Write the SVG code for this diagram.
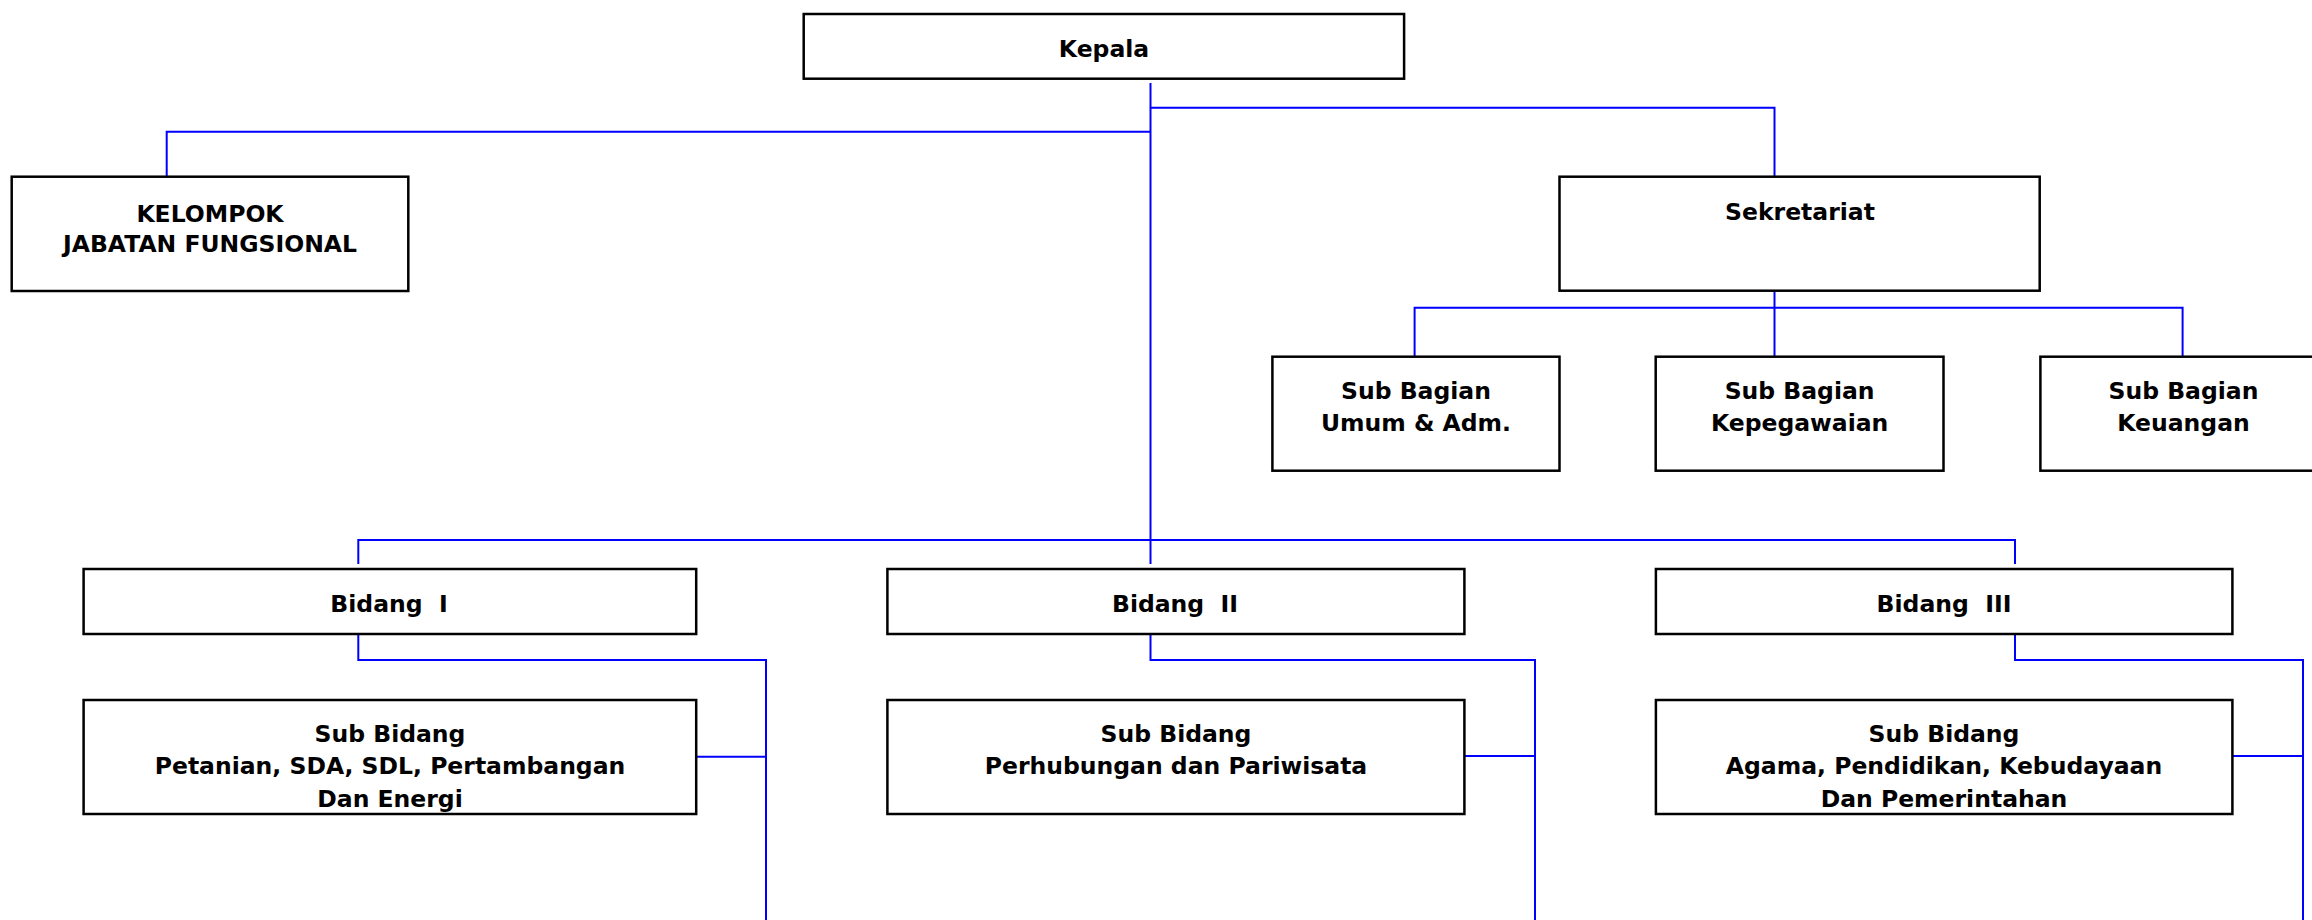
<svg xmlns="http://www.w3.org/2000/svg" width="2312" height="920" viewBox="0 0 2312 920">
<style>
.box{fill:#fff;stroke:#000;stroke-width:2.5}
.t{font-family:"DejaVu Sans","Liberation Sans",sans-serif;font-weight:bold;font-size:23.5px;fill:#000;text-anchor:middle}
.c{fill:none;stroke:#0000ff;stroke-width:2}
</style>
<rect width="2312" height="920" fill="#fff"/>
<g id="connectors">
<path class="c" d="M1150.5 83 V564"/>
<path class="c" d="M1150.5 107.7 H1774.5 V180"/>
<path class="c" d="M1150.5 131.7 H166.7 V180"/>
<path class="c" d="M1774.5 284 V356.7"/>
<path class="c" d="M1414.6 356.7 V307.7 H2182.6 V356.7"/>
<path class="c" d="M358.3 564 V540 H2015 V564"/>
<path class="c" d="M358.3 634 V660 H766 V920"/>
<path class="c" d="M696 756.7 H766"/>
<path class="c" d="M1150.5 634 V660 H1535 V920"/>
<path class="c" d="M1464 756 H1535"/>
<path class="c" d="M2015 634 V660 H2303 V920"/>
<path class="c" d="M2232 756 H2303"/>
</g>
<g id="kepala"><rect class="box" x="803.7" y="14" width="600.4" height="64.7"/><text class="t" x="1104" y="57">Kepala</text></g>
<g id="kelompok"><rect class="box" x="11.7" y="176.7" width="396.6" height="114.3"/><text class="t" x="210" y="221.7">KELOMPOK</text><text class="t" x="210" y="251.7">JABATAN FUNGSIONAL</text></g>
<g id="sekretariat"><rect class="box" x="1559.5" y="176.7" width="480.2" height="114"/><text class="t" x="1800" y="220">Sekretariat</text></g>
<g id="sub-umum"><rect class="box" x="1272.4" y="356.7" width="287.1" height="114"/><text class="t" x="1416" y="399.3">Sub Bagian</text><text class="t" x="1416" y="430.7">Umum &amp; Adm.</text></g>
<g id="sub-kepegawaian"><rect class="box" x="1655.7" y="356.7" width="287.8" height="114"/><text class="t" x="1799.6" y="399.3">Sub Bagian</text><text class="t" x="1799.6" y="430.7">Kepegawaian</text></g>
<g id="sub-keuangan"><rect class="box" x="2040.4" y="356.7" width="287.5" height="114"/><text class="t" x="2183.5" y="399.3">Sub Bagian</text><text class="t" x="2183.5" y="430.7">Keuangan</text></g>
<g id="bidang1"><rect class="box" x="83.6" y="569" width="612.6" height="65"/><text class="t" x="389" y="611.7" xml:space="preserve">Bidang  I</text></g>
<g id="bidang2"><rect class="box" x="887.4" y="569" width="577" height="65"/><text class="t" x="1175" y="611.7" xml:space="preserve">Bidang  II</text></g>
<g id="bidang3"><rect class="box" x="1655.9" y="569" width="576.5" height="65"/><text class="t" x="1944" y="611.7" xml:space="preserve">Bidang  III</text></g>
<g id="subbidang1"><rect class="box" x="83.6" y="700" width="612.6" height="114"/><text class="t" x="390" y="741.7">Sub Bidang</text><text class="t" x="390" y="774.3">Petanian, SDA, SDL, Pertambangan</text><text class="t" x="390" y="806.7">Dan Energi</text></g>
<g id="subbidang2"><rect class="box" x="887.4" y="700" width="577" height="114"/><text class="t" x="1176" y="741.7">Sub Bidang</text><text class="t" x="1176" y="774.3">Perhubungan dan Pariwisata</text></g>
<g id="subbidang3"><rect class="box" x="1655.9" y="700" width="576.5" height="114"/><text class="t" x="1944" y="741.7">Sub Bidang</text><text class="t" x="1944" y="774.3">Agama, Pendidikan, Kebudayaan</text><text class="t" x="1944" y="806.7">Dan Pemerintahan</text></g>
</svg>
